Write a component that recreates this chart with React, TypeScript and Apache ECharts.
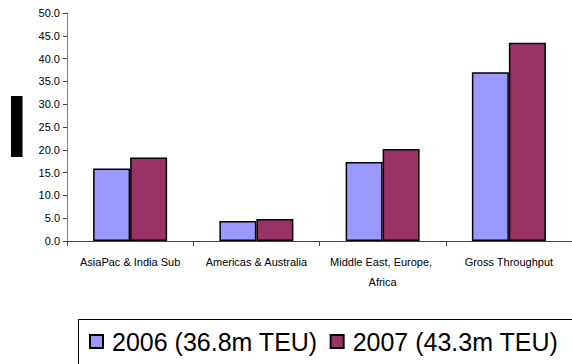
import React, { useEffect, useRef } from "react";
import * as echarts from "echarts";

const categories = [
  "AsiaPac & India Sub",
  "Americas & Australia",
  "Middle East, Europe, Africa",
  "Gross Throughput",
];
const seriesNames = ["2006 (36.8m TEU)", "2007 (43.3m TEU)"];
const values2006 = [15.9, 4.4, 17.3, 37.0];
const values2007 = [18.3, 4.8, 20.2, 43.5];
const yMin = 0;
const yMax = 50;
const yInterval = 5;

const FONT = "Liberation Sans, Arial, sans-serif";

export default function App() {
  const ref = useRef<HTMLDivElement>(null);
  useEffect(() => {
    if (!ref.current) return;
    const chart = echarts.init(ref.current, null, { renderer: "svg" });
    chart.setOption({
      animation: false,
      backgroundColor: "#ffffff",
      grid: { left: 67, top: 13, right: -4, bottom: 123 },
      xAxis: {
        type: "category",
        data: categories,
        axisLine: { lineStyle: { color: "#404040", width: 1 } },
        axisTick: { show: true, length: 5, lineStyle: { color: "#404040" } },
        axisLabel: {
          color: "#000",
          fontFamily: FONT,
          fontSize: 11,
          margin: 11,
          lineHeight: 20,
          interval: 0,
          width: 120,
          overflow: "break",
        },
      },
      yAxis: {
        type: "value",
        min: yMin,
        max: yMax,
        interval: yInterval,
        axisLine: { show: true, lineStyle: { color: "#808080", width: 1 } },
        axisTick: { show: true, length: 4, lineStyle: { color: "#404040" } },
        splitLine: { show: false },
        axisLabel: {
          color: "#000",
          fontFamily: FONT,
          fontSize: 11,
          margin: 7,
          formatter: (v: number) => v.toFixed(1),
        },
      },
      legend: {
        left: 89,
        top: 329,
        width: 900,
        padding: 0,
        itemWidth: 13,
        itemHeight: 13,
        itemGap: 12,
        icon: "rect",
        textStyle: { color: "#000", fontFamily: FONT, fontSize: 25, padding: [0, 0, 0, 4] },
        data: seriesNames,
      },
      graphic: [
        {
          type: "rect",
          left: 78,
          top: 319,
          z: -1,
          shape: { width: 600, height: 100 },
          style: { fill: "#fff", stroke: "#000", lineWidth: 1 },
        },
        {
          type: "rect",
          left: 11,
          top: 96,
          shape: { width: 11.5, height: 61 },
          style: { fill: "#000" },
        },
      ],
      series: [
        {
          name: seriesNames[0],
          type: "bar",
          data: values2006,
          barWidth: 37,
          barGap: "0%",
          itemStyle: { color: "#9999FF", borderColor: "#000", borderWidth: 1.5 },
        },
        {
          name: seriesNames[1],
          type: "bar",
          data: values2007,
          barWidth: 37,
          barGap: "0%",
          itemStyle: { color: "#993366", borderColor: "#000", borderWidth: 1.5 },
        },
      ],
    });
    return () => chart.dispose();
  }, []);
  return (
    <div
      ref={ref}
      style={{ position: "absolute", left: 0, top: 0, width: 572, height: 364 }}
    />
  );
}
